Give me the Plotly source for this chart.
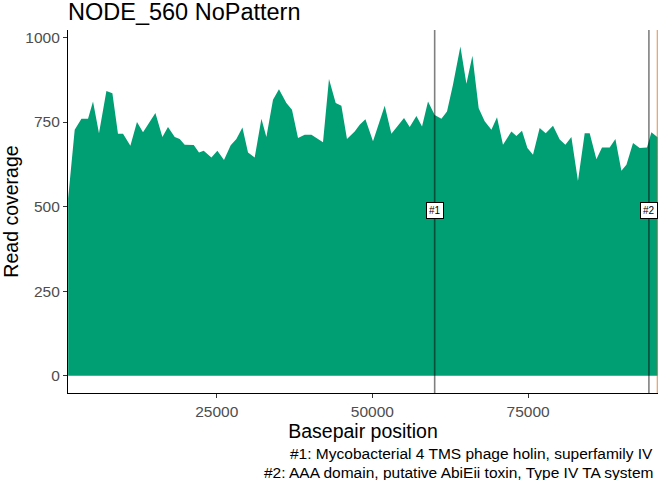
import plotly.graph_objects as go

# coverage (basepair position, read coverage)
positions = [1150, 1670, 2200, 3280, 4340, 5140, 6100, 7290, 8250, 9150,
             9960, 11140, 12200, 13170, 15160, 16280, 17180, 18260, 19060, 19860,
             21310, 22160, 22910, 24150, 25110, 26170, 27250, 28160, 29130, 30030,
             31100, 32180, 32980, 34040, 35000, 36190, 37090, 38060, 39130, 40210,
             42070, 43030, 44110, 45020, 45920, 47160, 47960, 48880, 50100, 51980,
             53050, 55080, 55990, 57070, 57970, 58930, 60000, 61080, 61980, 62940,
             64130, 65100, 66060, 67070, 68030, 69110, 70010, 70970, 72320, 73120,
             74020, 74890, 75790, 76860, 77830, 79000, 80080, 80990, 81950, 83010,
             84090, 84890, 85970, 86870, 88100, 89020, 89980, 90790, 91850, 92920,
             94090, 94800, 95760, 95790]
coverage = [525, 630, 727, 760, 760, 811, 717, 842, 835, 715,
            715, 680, 750, 720, 777, 706, 735, 706, 700, 683,
            682, 660, 665, 645, 665, 638, 681, 700, 734, 660,
            645, 760, 706, 816, 847, 806, 786, 703, 712, 712,
            690, 877, 806, 798, 700, 722, 742, 758, 693, 798,
            715, 762, 735, 768, 737, 811, 771, 760, 781, 860,
            973, 863, 946, 791, 752, 727, 764, 683, 722, 709,
            724, 673, 653, 732, 717, 739, 698, 683, 706, 576,
            717, 717, 640, 675, 675, 700, 606, 624, 688, 673,
            675, 720, 708, 705]

# annotated genes
gene_pos = [60000, 94400]
gene_tags = ["#1", "#2"]
gene_names = ["Mycobacterial 4 TMS phage holin, superfamily IV",
              "AAA domain, putative AbiEii toxin, Type IV TA system"]
contig_end = 95810
tag_y = 488

fig = go.Figure()
fig.add_trace(go.Scatter(x=positions, y=coverage, mode="lines", fill="tozeroy",
                         fillcolor="#009E73", line=dict(width=0, color="#009E73"),
                         hoverinfo="skip", showlegend=False))

for p, t in zip(gene_pos, gene_tags):
    fig.add_shape(type="line", x0=p, x1=p, y0=0, y1=1, yref="paper",
                  line=dict(color="rgba(0,0,0,0.5)", width=1.6))
    fig.add_annotation(x=p, y=tag_y, text=t, showarrow=False,
                       font=dict(size=10, color="black"), bgcolor="white",
                       bordercolor="black", borderwidth=1, borderpad=2)

fig.add_shape(type="line", x0=contig_end, x1=contig_end, y0=0, y1=1, yref="paper",
              line=dict(color="rgba(213,94,0,0.55)", width=2))

# caption lines, right aligned under the panel
cap_y = [-0.168, -0.218]
for (t, n), cy in zip(zip(gene_tags, gene_names), cap_y):
    fig.add_annotation(x=1, xref="paper", xanchor="right", xshift=-3,
                       y=cy, yref="paper", yanchor="middle",
                       text="%s: %s" % (t, n), showarrow=False,
                       font=dict(size=15.5, color="black"))

fig.update_layout(
    width=672, height=480, autosize=False,
    margin=dict(l=68, r=13.5, t=30, b=87),
    plot_bgcolor="white", paper_bgcolor="white",
    font=dict(family="Liberation Sans, Arial, sans-serif"),
    title=dict(text="NODE_560 NoPattern", x=0, xref="paper", xanchor="left",
               y=0.975, yref="container", yanchor="middle",
               font=dict(size=23.5, color="black")),
)
fig.update_xaxes(range=[1124, 95860], showgrid=False, zeroline=False,
                 automargin=False,
                 showline=True, linecolor="black", linewidth=1.2,
                 ticks="outside", ticklen=4, tickcolor="#333333",
                 tickvals=[25000, 50000, 75000], tickformat="d",
                 tickfont=dict(size=15.5, color="#4D4D4D"),
                 title=dict(text="Basepair position", font=dict(size=19.5, color="black"),
                            standoff=3))
fig.update_yaxes(range=[-51, 1022], showgrid=False, zeroline=False,
                 automargin=False,
                 showline=True, linecolor="black", linewidth=1.2,
                 ticks="outside", ticklen=4, tickcolor="#333333",
                 tickvals=[0, 250, 500, 750, 1000],
                 tickfont=dict(size=15.5, color="#4D4D4D"),
                 title=dict(text="Read coverage", font=dict(size=19.5, color="black"),
                            standoff=4))

# page body has a default 8px margin, drop it so the figure fills the window
fig.write_html("out.html", config={"displayModeBar": False},
               post_script="document.body.style.margin='0px';")
